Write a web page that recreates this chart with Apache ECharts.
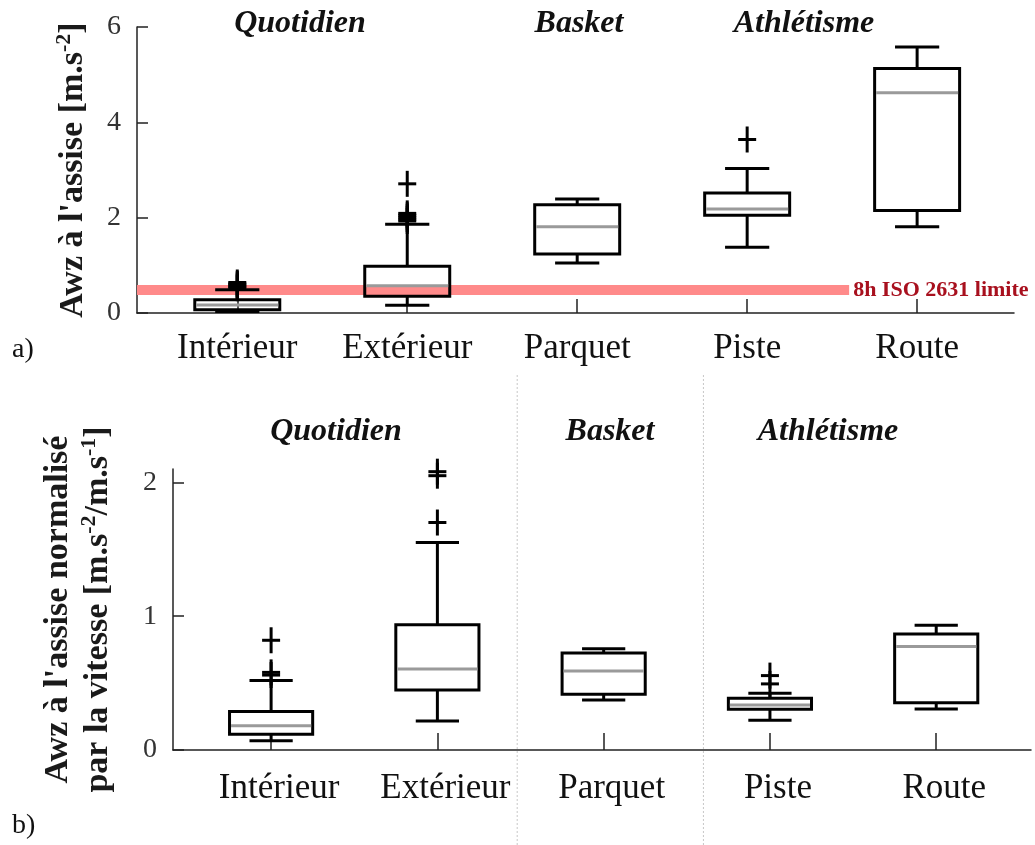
<!DOCTYPE html>
<html>
<head>
<meta charset="utf-8">
<script src="https://cdn.jsdelivr.net/npm/echarts@6/dist/echarts.min.js"></script>
<style>
  html, body { margin: 0; padding: 0; background: #fff; }
  #chart { width: 1035px; height: 845px; }
</style>
</head>
<body>
<div id="chart"></div>
<script>
// Categories and group headings
const categories = ['Intérieur', 'Extérieur', 'Parquet', 'Piste', 'Route'];
const groups = ['Quotidien', 'Basket', 'Athlétisme'];

// a) Awz at the seat [m.s-2] : [lower whisker, Q1, median, Q3, upper whisker]
const awzStats = [
  [0.03, 0.07, 0.17, 0.28, 0.49],
  [0.16, 0.35, 0.57, 0.98, 1.86],
  [1.05, 1.24, 1.81, 2.27, 2.39],
  [1.38, 2.05, 2.18, 2.52, 3.03],
  [1.81, 2.15, 4.62, 5.13, 5.58]
];
const awzOutliers = [
  [0.52, 0.55, 0.58, 0.61, 0.64],
  [1.93, 1.97, 2.01, 2.05, 2.09, 2.71],
  [],
  [3.64],
  []
];
const isoLimit = 0.48;          // 8h ISO 2631 comfort limit
const isoLimitEnd = 4.6;        // band stops before the last category
const yTicksA = [0, 2, 4, 6];

// b) Awz normalised by speed [m.s-2/m.s-1]
const normStats = [
  [0.07, 0.118, 0.182, 0.287, 0.519],
  [0.217, 0.449, 0.606, 0.936, 1.55],
  [0.374, 0.417, 0.591, 0.724, 0.756],
  [0.222, 0.305, 0.337, 0.387, 0.424],
  [0.307, 0.354, 0.773, 0.866, 0.933]
];
const normOutliers = [
  [0.56, 0.58, 0.82],
  [1.70, 2.05, 2.08],
  [],
  [0.494, 0.556],
  []
];
const yTicksB = [0, 1, 2];
const groupBreaks = [2.48, 3.6];

const SERIF = '"Liberation Serif", "Times New Roman", serif';
const X_MIN = 0.41, X_MAX = 5.57;
const catPos = categories.map((c, i) => i + 1);

function boxItem(params, api) {
  const x = api.value(0);
  const lo = api.coord([x, api.value(1)]);
  const q1 = api.coord([x, api.value(2)]);
  const md = api.coord([x, api.value(3)]);
  const q3 = api.coord([x, api.value(4)]);
  const hi = api.coord([x, api.value(5)]);
  const bw = api.size([0.5, 0])[0] / 2;
  const cw = api.size([0.26, 0])[0] / 2;
  const cx = lo[0];
  const k = { stroke: '#000', lineWidth: 3, fill: null };
  return {
    type: 'group',
    children: [
      { type: 'line', shape: { x1: cx, y1: q3[1], x2: cx, y2: hi[1] }, style: k },
      { type: 'line', shape: { x1: cx, y1: lo[1], x2: cx, y2: q1[1] }, style: k },
      { type: 'line', shape: { x1: cx - cw, y1: hi[1], x2: cx + cw, y2: hi[1] }, style: k },
      { type: 'line', shape: { x1: cx - cw, y1: lo[1], x2: cx + cw, y2: lo[1] }, style: k },
      { type: 'rect', shape: { x: cx - bw, y: q3[1], width: 2 * bw, height: q1[1] - q3[1] },
        style: { stroke: '#000', lineWidth: 3, fill: 'none' } },
      { type: 'line', shape: { x1: cx - bw + 1.5, y1: md[1], x2: cx + bw - 1.5, y2: md[1] },
        style: { stroke: '#9a9a9a', lineWidth: 3 } }
    ]
  };
}

function plusItem(params, api) {
  const p = api.coord([api.value(0), api.value(1)]);
  const hw = 9, hh = 13;
  const k = { stroke: '#000', lineWidth: 3 };
  return {
    type: 'group',
    children: [
      { type: 'line', shape: { x1: p[0] - hw, y1: p[1], x2: p[0] + hw, y2: p[1] }, style: k },
      { type: 'line', shape: { x1: p[0], y1: p[1] - hh, x2: p[0], y2: p[1] + hh }, style: k }
    ]
  };
}

function limitItem(params, api) {
  const v = api.value(0);
  const a = api.coord([X_MIN, v]);
  const b = api.coord([isoLimitEnd, v]);
  return {
    type: 'group',
    children: [
      { type: 'line', shape: { x1: a[0], y1: a[1], x2: b[0], y2: b[1] },
        style: { stroke: '#ff8a8a', lineWidth: 10 } },
      { type: 'text', x: b[0] + 4, y: b[1],
        style: { text: '8h ISO 2631 limite', fill: '#a8101e', font: 'bold 22px ' + SERIF,
                 textAlign: 'left', verticalAlign: 'middle', textVerticalAlign: 'middle' } }
    ]
  };
}

function breakItem(params, api) {
  const x = api.value(0);
  const a = api.coord([x, 0]);
  const b = api.coord([x, 1]);
  return { type: 'line', shape: { x1: a[0], y1: a[1], x2: b[0], y2: b[1] },
           style: { stroke: '#c8c8c8', lineWidth: 1, lineDash: [2, 2] } };
}

const flatOutliers = arr => arr.flatMap((vals, i) => vals.map(v => [i + 1, v]));

const axisColor = '#222';
function xAxisFor(gridIndex, tickLen, margin, pad) {
  return {
    type: 'value', gridIndex, min: X_MIN, max: X_MAX,
    axisLine: { show: true, onZero: false, lineStyle: { color: axisColor, width: 1.5 } },
    axisTick: { show: true, inside: true, length: tickLen, customValues: catPos,
                lineStyle: { color: axisColor, width: 1.5 } },
    axisLabel: { show: true, customValues: catPos, margin,
                 formatter: v => categories[Math.round(v) - 1] || '',
                 fontFamily: SERIF, fontSize: 35, lineHeight: 35, color: '#111',
                 padding: [0, 0, 0, pad] },
    splitLine: { show: false }
  };
}
function yAxisFor(gridIndex, max, interval, name, nameGap, rich) {
  return {
    type: 'value', gridIndex, min: 0, max, interval,
    name, nameLocation: 'middle', nameGap, nameRotate: 90, nameMoveOverlap: false,
    nameTextStyle: { fontFamily: SERIF, fontSize: 34, fontWeight: 'bold', color: '#1a1a1a', rich },
    axisLine: { show: true, lineStyle: { color: axisColor, width: 1.5 } },
    axisTick: { show: true, inside: true, length: 11, lineStyle: { color: axisColor, width: 1.5 } },
    axisLabel: { show: true, margin: 16, fontFamily: SERIF, fontSize: 28, color: '#333' },
    splitLine: { show: false }
  };
}

const richName = {
  b: { fontFamily: SERIF, fontSize: 34, fontWeight: 'bold', color: '#1a1a1a', lineHeight: 40 },
  s: { fontFamily: SERIF, fontSize: 22, fontWeight: 'bold', color: '#1a1a1a', lineHeight: 22, verticalAlign: 'top' }
};

const nameA = '{b|Awz à l\'assise [m.s}{s|-2}{b|]}';
const nameB = '{b|Awz à l\'assise normalisé}\n{b|par la vitesse [m.s}{s|-2}{b|/m.s}{s|-1}{b|]}';

const titleStyle = (text, x, y) => ({
  type: 'text', x, y, silent: true,
  style: { text, font: 'italic bold 32px ' + SERIF, fill: '#111',
           textAlign: 'center', verticalAlign: 'middle', textVerticalAlign: 'middle' }
});
const panelTag = (text, x, y) => ({
  type: 'text', x, y, silent: true,
  style: { text, font: '28px ' + SERIF, fill: '#111',
           textAlign: 'left', verticalAlign: 'middle', textVerticalAlign: 'middle' }
});

const chart = echarts.init(document.getElementById('chart'), null, { renderer: 'canvas' });
chart.setOption({
  backgroundColor: '#fff',
  animation: false,
  grid: [
    { left: 137, top: 27, width: 877, height: 286, outerBoundsMode: 'none', containLabel: false },
    { left: 173, top: 469, width: 858, height: 281, outerBoundsMode: 'none', containLabel: false },
    { left: 173, top: 374, width: 858, height: 471, outerBoundsMode: 'none', containLabel: false }
  ],
  xAxis: [
    xAxisFor(0, 14, 18, 0),
    xAxisFor(1, 17, 21, 16),
    { type: 'value', gridIndex: 2, min: X_MIN, max: X_MAX, show: false }
  ],
  yAxis: [
    yAxisFor(0, 6, 2, nameA, 44, richName),
    yAxisFor(1, 2.1, 1, nameB, 55, richName),
    { type: 'value', gridIndex: 2, min: 0, max: 1, show: false }
  ],
  graphic: [
    titleStyle(groups[0], 300, 24),
    titleStyle(groups[1], 579, 24),
    titleStyle(groups[2], 804, 24),
    titleStyle(groups[0], 336, 432),
    titleStyle(groups[1], 610, 432),
    titleStyle(groups[2], 828, 432),
    panelTag('a)', 12, 350),
    panelTag('b)', 12, 826)
  ],
  series: [
    { type: 'custom', name: 'groupBreaks', xAxisIndex: 2, yAxisIndex: 2, z: 1, silent: true,
      renderItem: breakItem, data: groupBreaks.map(v => [v]), encode: { x: 0 } },
    { type: 'custom', name: 'isoLimit', xAxisIndex: 0, yAxisIndex: 0, z: 2, silent: true,
      renderItem: limitItem, data: [[isoLimit]], encode: { y: 0 } },
    { type: 'custom', name: 'awz', xAxisIndex: 0, yAxisIndex: 0, z: 3, silent: true,
      renderItem: boxItem, data: awzStats.map((s, i) => [i + 1, ...s]),
      encode: { x: 0, y: [1, 2, 3, 4, 5] } },
    { type: 'custom', name: 'awzOut', xAxisIndex: 0, yAxisIndex: 0, z: 4, silent: true,
      renderItem: plusItem, data: flatOutliers(awzOutliers), encode: { x: 0, y: 1 } },
    { type: 'custom', name: 'norm', xAxisIndex: 1, yAxisIndex: 1, z: 3, silent: true,
      renderItem: boxItem, data: normStats.map((s, i) => [i + 1, ...s]),
      encode: { x: 0, y: [1, 2, 3, 4, 5] } },
    { type: 'custom', name: 'normOut', xAxisIndex: 1, yAxisIndex: 1, z: 4, silent: true,
      renderItem: plusItem, data: flatOutliers(normOutliers), encode: { x: 0, y: 1 } }
  ]
});
</script>
</body>
</html>
